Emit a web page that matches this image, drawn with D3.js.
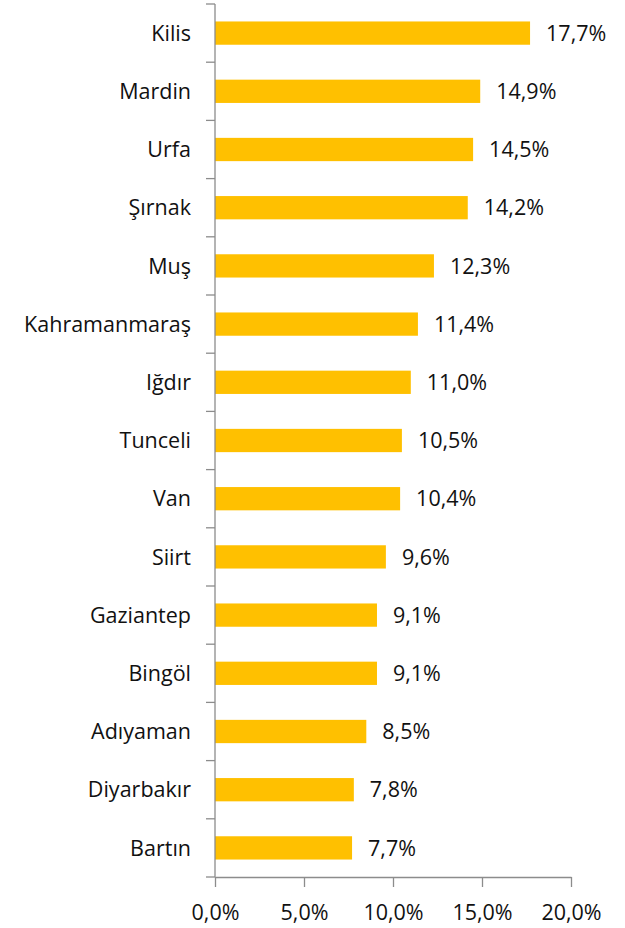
<!DOCTYPE html>
<html>
<head>
<meta charset="utf-8">
<script src="https://cdn.jsdelivr.net/npm/d3@7"></script>
<style>
  body { margin: 0; background: #fff; }
  text { font-family: "Open Sans", "Noto Sans", sans-serif; fill: #111; }
  .axis path, .axis line { stroke: #8c8c8c; stroke-width: 1.3px; }
</style>
</head>
<body>
<svg id="chart" width="625" height="928"></svg>
<script>
// provinces, top to bottom
var provinces = ["Kilis", "Mardin", "Urfa", "Şırnak", "Muş", "Kahramanmaraş", "Iğdır",
  "Tunceli", "Van", "Siirt", "Gaziantep", "Bingöl", "Adıyaman", "Diyarbakır", "Bartın"];
var rates = [17.7, 14.9, 14.5, 14.2, 12.3, 11.4, 11.0, 10.5, 10.4, 9.6, 9.1, 9.1, 8.5, 7.8, 7.7];
var xTicks = [0, 5, 10, 15, 20];

var svg = d3.select("#chart");
var mLeft = 215, mRight = 571, mTop = 4, mBottom = 877;
var fs = "21.5px";

var x = d3.scaleLinear().domain([0, 20]).range([mLeft, mRight]);
var y = d3.scaleBand().domain(provinces).range([mTop, mBottom]).paddingInner(0.6).paddingOuter(0.3);

var fmt = function(v) { return d3.format(".1f")(v).replace(".", ",") + "%"; };

svg.selectAll(".bar")
  .data(provinces)
  .enter().append("rect")
  .attr("class", "bar")
  .attr("x", x(0))
  .attr("y", function(d) { return y(d); })
  .attr("width", function(d, i) { return x(rates[i]) - x(0); })
  .attr("height", y.bandwidth())
  .attr("fill", "#ffc000");

svg.selectAll(".val")
  .data(provinces)
  .enter().append("text")
  .attr("class", "val")
  .attr("x", function(d, i) { return x(rates[i]) + 16; })
  .attr("y", function(d) { return y(d) + y.bandwidth() / 2; })
  .attr("dy", "0.36em")
  .style("font-size", fs)
  .text(function(d, i) { return fmt(rates[i]); });

// y axis: ticks sit on band boundaries
var yAxis = svg.append("g").attr("class", "axis");
yAxis.append("line").attr("x1", mLeft).attr("x2", mLeft).attr("y1", mTop).attr("y2", mBottom);
var step = (mBottom - mTop) / provinces.length;
d3.range(provinces.length + 1).forEach(function(i) {
  yAxis.append("line").attr("x1", mLeft - 9).attr("x2", mLeft)
    .attr("y1", mTop + i * step).attr("y2", mTop + i * step);
});
svg.selectAll(".cat")
  .data(provinces)
  .enter().append("text")
  .attr("class", "cat")
  .attr("x", mLeft - 24)
  .attr("y", function(d) { return y(d) + y.bandwidth() / 2; })
  .attr("dy", "0.36em")
  .attr("text-anchor", "end")
  .style("font-size", fs)
  .text(function(d) { return d; });

// x axis
var xAxis = svg.append("g").attr("class", "axis")
  .attr("transform", "translate(0," + mBottom + ")")
  .call(d3.axisBottom(x).tickValues(xTicks).tickSize(10).tickSizeOuter(0).tickFormat(fmt));
xAxis.select(".domain").attr("stroke", "#8c8c8c");
xAxis.selectAll("text").style("font-size", fs).attr("dy", "0").attr("y", 43).attr("fill", "#111");
</script>
</body>
</html>
